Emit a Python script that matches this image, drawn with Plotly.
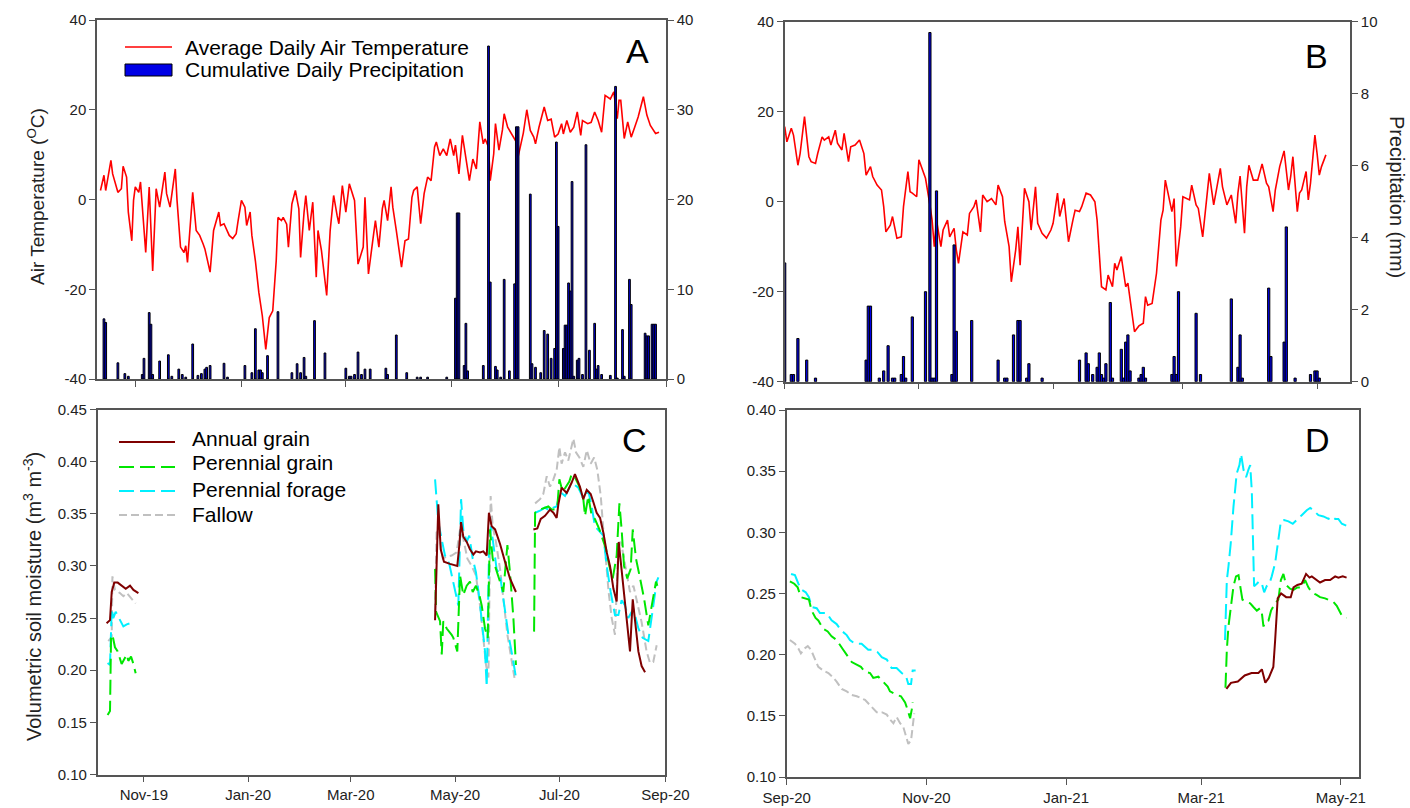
import pandas as pd
import plotly.graph_objects as go

# ---------------- data (day offsets from the start dates) ----------------
A_START = "2019-10-10"
B_START = "2020-09-01"
C_START = "2019-10-05"
D_START = "2020-09-01"

A_TEMP_DAY = [2,4,5,6,8,9,12,14,15,17,18,20,21,22,24,25,26,28,30,32,34,36,39,40,42,45,46,48,50,51,
              52,55,57,59,61,62,65,67,70,71,73,76,78,80,81,83,85,86,88,89,91,93,95,97,99,101,103,104,106,107,
              109,110,112,114,116,117,119,120,122,124,126,127,129,132,134,136,138,139,141,143,145,148,150,153,154,156,159,160,162,164,
              165,167,169,170,172,174,175,177,179,181,182,184,186,188,190,192,194,195,197,199,201,203,205,206,208,210,212,214,216,218,
              220,222,223,225,226,228,229,231,233,234,236,239,241,242,245,247,249,251,252,254,257,259,261,263,265,267,268,270,272,274,
              276,278,279,282,284,286,288,290,292,295,297,299,300,301,303,305,307,309,311,314,316,318,320,321,323]
A_TEMP = [2.0,5.4,2.0,4.2,8.7,5.7,1.6,2.4,7.4,5.0,-2.8,-9.2,-0.2,2.8,1.6,3.9,-1.7,-11.8,2.8,-15.9,
          2.4,-1.7,6.1,1.3,-1.7,6.8,-0.2,-10.6,-11.8,-10.3,-14.0,1.6,-6.9,-8.0,-9.9,-11.0,-16.2,-6.9,-2.8,-5.8,
          -5.4,-8.0,-8.7,-7.6,-5.0,-0.2,-1.7,-5.8,-2.8,-8.0,-13.6,-20.7,-25.9,-33.4,-26.3,-24.8,-13.6,-4.0,-4.7,-4.0,
          -5.5,-10.6,-1.0,2.0,-2.1,-12.9,-2.8,0.9,-6.9,-0.6,-17.3,-6.9,-11.4,-21.4,-6.9,0.9,-3.6,-5.4,3.1,-2.8,
          3.5,-0.2,-14.4,-10.6,0.5,-16.6,-7.6,-4.7,-10.6,-2.0,-0.2,-4.7,2.8,-1.7,-6.9,-12.1,-15.1,-9.2,-8.8,0.5,
          2.0,2.8,-5.4,1.3,5.0,4.2,11.7,12.8,9.8,11.3,9.8,13.5,9.8,12.1,5.7,14.3,8.7,4.2,9.0,6.8,
          17.3,12.4,13.5,11.7,4.2,10.2,16.9,11.0,15.5,19.1,16.1,14.3,12.8,9.5,14.8,20.0,15.4,13.9,12.4,16.1,
          20.6,17.6,17.9,13.9,14.6,16.9,14.6,17.6,15.0,16.1,19.5,14.3,17.6,16.9,17.2,19.5,17.6,15.0,23.2,22.4,
          24.0,18.0,22.1,22.1,13.6,17.3,13.9,16.1,18.4,22.9,18.8,16.5,15.4,14.7,15.0]

A_PRECIP_DAY = [4,5,12,16,18,26,27,30,31,32,36,41,43,47,49,51,55,58,60,62,63,65,73,75,85,89,91,93,94,95,
                98,104,112,115,117,119,120,125,131,143,145,146,148,150,152,154,157,166,167,172,178,184,186,190,201,206,207,208,211,212,
                213,222,225,226,229,230,232,234,237,240,241,242,249,250,252,255,257,259,261,263,264,265,268,269,270,271,272,273,274,276,
                277,279,281,283,286,287,288,290,295,298,299,302,303,306,307,315,316,317,319,320,321]
A_PRECIP = [6.7,6.3,1.8,0.6,0.3,0.5,2.3,7.4,6.1,0.5,2.0,2.7,0.3,1.1,0.5,0.2,3.9,0.4,0.6,1.1,
            1.3,1.5,1.75,0.2,1.5,0.7,5.6,1.0,1.0,0.7,2.6,7.5,0.7,1.7,0.7,2.4,0.3,6.5,2.9,1.2,
            0.3,0.3,0.5,3.0,0.5,1.1,1.1,1.2,0.5,4.9,0.7,0.2,0.2,0.2,0.2,9.0,18.5,18.5,1.5,6.2,
            0.9,1.5,37.1,10.8,1.4,1.0,0.2,11.1,0.9,10.6,28.1,28.1,20.6,1.7,1.3,0.7,5.4,5.0,2.3,3.4,
            26.4,17.0,3.4,6.0,6.0,10.7,9.8,22.0,0.3,2.1,2.3,0.5,26.1,3.2,6.2,1.1,1.5,0.5,0.4,32.6,
            0.1,5.5,0.3,11.1,8.3,5.1,4.8,4.8,6.1,6.1,6.1]

B_TEMP_DAY = [0,1,3,4,6,7,9,11,12,14,15,17,18,20,21,23,24,26,27,29,30,32,34,36,37,39,40,42,44,45,
              46,48,49,50,51,53,54,56,57,58,60,61,63,64,66,67,68,69,71,72,74,75,77,78,79,81,83,84,86,87,
              89,90,92,94,96,97,99,100,102,103,105,106,107,109,111,112,114,115,117,119,121,122,124,125,127,128,129,131,132,134,
              135,137,139,141,142,144,146,147,149,150,151,153,155,156,158,159,161,163,164,165,167,169,171,172,173,174,176,177,178,180,
              181,184,185,187,188,190,192,193,195,196,198,199,201,203,205,206,207,209,210,211,213,215,217,219,220,222,223,225,227,229,
              230,231,233,234,235,237,238,239,241,242,243,244,246]
B_TEMP = [16.7,13.3,16.3,14.8,8.1,10.7,18.9,10.0,8.9,8.5,10.7,14.4,13.7,14.4,12.6,15.9,13.0,11.5,15.2,8.9,
          12.2,12.6,13.7,10.7,5.9,7.8,5.6,3.7,2.6,-1.1,-6.7,-5.2,-3.3,-5.6,-8.1,-7.8,-1.1,6.7,2.2,1.9,
          1.1,9.3,6.7,5.2,-0.7,-4.1,-10.0,-4.1,-10.0,-6.3,-4.1,-7.8,-5.9,-10.7,-13.7,-6.7,-7.4,-2.6,-1.1,0.4,
          -6.7,1.5,0.0,0.7,-0.7,3.7,1.1,-4.4,-10.0,-17.8,-10.7,-5.6,-14.1,3.0,0.0,-6.3,3.3,-4.8,-7.0,-8.1,
          -6.3,-4.8,1.9,-3.3,0.7,-4.1,-8.9,-4.1,-1.9,-2.2,-1.1,1.9,1.5,0.0,-4.1,-18.9,-19.6,-16.3,-18.9,-13.7,
          -15.2,-12.2,-18.9,-18.1,-24.8,-28.9,-27.6,-27.0,-21.1,-23.0,-22.6,-15.9,-4.1,-1.9,4.8,2.6,-2.2,0.7,-14.4,-5.6,
          1.1,0.4,3.7,-0.7,-1.5,-7.8,1.1,6.3,-0.7,1.9,7.4,3.3,-0.7,1.5,-4.8,1.9,5.7,-7.0,3.3,8.1,
          4.8,4.8,8.4,4.1,3.3,-2.2,2.6,7.8,11.3,2.6,5.6,10.0,-2.2,1.9,2.6,6.7,0.4,4.1,14.8,10.7,
          5.9,7.8,10.4]

B_PRECIP_DAY = [0,3,4,6,10,14,37,38,39,43,45,47,49,50,53,54,55,58,64,66,67,68,69,76,77,78,85,97,100,101,
                104,106,107,110,111,117,134,137,138,140,142,143,144,145,146,148,149,153,154,155,156,157,161,162,163,164,176,177,178,179,
                187,189,203,206,207,208,220,221,227,228,232,239,241,242,243]
B_PRECIP = [3.3,0.2,0.2,1.2,0.6,0.1,0.6,2.1,2.1,0.1,0.3,1.0,0.1,0.1,0.2,0.7,0.1,1.8,2.5,9.7,
            0.1,0.1,5.3,0.2,3.8,1.4,1.7,0.6,0.1,0.1,1.3,1.7,1.7,0.1,0.5,0.1,0.6,0.8,0.5,0.2,
            0.4,0.8,0.2,0.1,0.5,2.2,0.1,0.9,0.1,1.1,1.3,0.3,0.1,0.2,0.4,0.1,0.2,0.7,0.2,2.5,
            1.9,0.2,2.3,0.4,1.3,0.1,2.6,0.7,1.1,4.3,0.1,0.2,0.3,0.3,0.1]

# Panel C soil moisture (None = gap in record)
C_ANNUAL_DAY = [5.2,7.2,8.2,9.7,11.7,14.0,16.4,18.9,20.9,23.8, 100,
                197.3,199.2,200.6,202.5,206.0,210.3,211.5,212.5,213.8,215.8,217.7,219.7,221.2,223.6,225.5,227.5,228.8,230.4,232.4,235.3,238.2,241.1,244.6, 250,
                254.8,257.1,259.1,261.6,264.5,266.5,268.4,269.4,271.3,274.3,277.2,279.1,282.0,284.0,286.0,288.3,289.9,291.8,293.8,295.7,
                297.7,299.6,301.6,303.5,304.7,306.4,308.4,310.3,311.3,312.9,314.2,316.2,318.1,320.1]
C_ANNUAL = [0.245,0.248,0.275,0.284,0.284,0.281,0.278,0.281,0.277,0.274, None,
            0.248,0.359,0.316,0.304,0.302,0.300,0.320,0.342,0.328,0.323,0.316,0.311,0.314,0.313,0.314,0.310,0.351,0.338,0.335,0.321,0.304,0.288,0.275, None,
            0.335,0.336,0.345,0.348,0.354,0.351,0.346,0.359,0.375,0.370,0.380,0.388,0.376,0.364,0.373,0.369,0.361,0.351,0.346,0.332,
            0.313,0.300,0.278,0.266,0.323,0.297,0.265,0.240,0.218,0.268,0.246,0.218,0.204,0.198]

C_PGRAIN_DAY = [5.8,7.2,7.8,8.6,10.1,11.7,14.0,17.0,17.9,19.5,20.9,22.2, 100,
                197.3,197.9,200.2,201.2,202.1,204.1,207.0,208.0,210.3,211.9,213.8,215.8,217.7,219.3,221.2,223.2,224.6,226.5,228.1,229.4,
                231.0,232.9,234.9,237.2,239.6,241.1,243.1,244.6, 250,
                255.2,255.8,258.7,261.6,263.5,265.5,267.4,268.8,270.0,271.9,273.9,275.8,277.2,279.1,281.7,284.0,285.0,286.9,288.9,290.8,
                293.4,295.3,297.3,299.2,301.2,303.5,305.1,306.4,307.8,309.7,311.7,312.9,314.8,317.2,319.5,322.0,324.6,326.5,327.3]
C_PGRAIN = [0.157,0.161,0.231,0.234,0.222,0.218,0.206,0.215,0.209,0.213,0.206,0.197, None,
            0.297,0.256,0.247,0.215,0.247,0.240,0.234,0.231,0.218,0.291,0.272,0.281,0.285,0.275,0.281,0.272,0.262,0.240,0.231,0.335,
            0.307,0.297,0.285,0.275,0.320,0.294,0.250,0.205, None,
            0.237,0.351,0.354,0.356,0.357,0.354,0.354,0.357,0.383,0.371,0.376,0.381,0.388,0.385,0.376,0.364,0.348,0.367,0.348,0.345,
            0.335,0.326,0.316,0.300,0.288,0.310,0.360,0.335,0.300,0.288,0.297,0.335,0.307,0.288,0.269,0.243,0.269,0.285,0.281]

C_PFORAGE_DAY = [5.8,7.2,8.2,9.1,10.5,12.5,15.0,17.0,18.9,20.9, 100,
                 197.3,199.2,201.1,203.1,205.6,208.0,209.9,210.9,212.5,213.8,215.8,217.3,219.3,221.2,223.2,225.1,226.5,227.5,228.8,230.0,
                 231.8,233.3,235.3,237.6,240.2,242.7,244.6, 250,
                 255.8,258.7,261.6,264.5,266.5,268.4,270.4,273.3,276.2,278.6,281.1,284.0,286.9,288.9,290.8,293.8,295.7,297.7,300.0,302.5,
                 304.5,306.4,308.4,310.3,313.3,316.2,318.7,322.0,324.6,326.9,327.9]
C_PFORAGE = [0.207,0.205,0.259,0.250,0.256,0.250,0.242,0.244,0.245,0.241, None,
             0.383,0.342,0.326,0.310,0.302,0.285,0.272,0.262,0.364,0.335,0.323,0.329,0.307,0.294,0.269,0.243,0.218,0.184,0.310,0.338,
             0.313,0.297,0.291,0.262,0.234,0.212,0.193, None,
             0.351,0.353,0.356,0.353,0.356,0.357,0.371,0.367,0.376,0.378,0.375,0.365,0.372,0.357,0.338,0.332,0.329,0.300,0.275,0.253,
             0.253,0.267,0.262,0.250,0.259,0.240,0.231,0.228,0.256,0.285,0.289]

C_FALLOW_DAY = [6.2,8.2,8.6,10.1,13.0,15.0,17.0,19.9,22.2, 100,
                197.3,198.2,199.8,201.8,204.1,207.0,209.9,211.9,213.8,216.2,218.7,221.2,223.6,225.5,227.1,228.5,229.8,231.0,232.9,235.3,
                237.6,239.6,241.5,244.0, 250,
                255.8,258.7,260.6,262.6,264.5,266.5,268.4,270.0,271.3,273.3,275.2,277.2,278.2,279.7,281.7,284.0,286.0,288.3,290.3,292.2,
                294.2,295.7,297.3,298.8,300.6,302.5,304.5,306.0,307.8,309.7,311.3,313.3,315.6,318.1,321.0,323.0,324.9,326.9]
C_FALLOW = [0.228,0.232,0.290,0.277,0.274,0.271,0.274,0.269,0.264, None,
            0.256,0.335,0.329,0.307,0.309,0.310,0.313,0.335,0.326,0.307,0.300,0.291,0.262,0.234,0.205,0.193,0.367,0.338,0.323,0.297,
            0.262,0.234,0.215,0.190, None,
            0.360,0.364,0.369,0.386,0.376,0.383,0.392,0.414,0.398,0.409,0.401,0.415,0.422,0.409,0.404,0.395,0.411,0.398,0.404,0.392,
            0.367,0.335,0.304,0.275,0.250,0.234,0.320,0.323,0.307,0.291,0.275,0.281,0.265,0.246,0.218,0.207,0.208,0.224]

# Panel D soil moisture
D_ANNUAL_DAY = [192,194,197,200,203,206,207.5,209,210.5,212.5,213.3,214.4,215.9,218.1,220.1,221.3,223,224.9,226.8,228.3,
                229.3,231.2,232.9,235.1,237.3,239.5,240.9,242.8,244.5]
D_ANNUAL = [0.172,0.177,0.178,0.183,0.185,0.185,0.188,0.177,0.181,0.190,0.212,0.246,0.250,0.247,0.247,0.255,0.257,0.258,0.266,0.263,
            0.264,0.261,0.259,0.261,0.261,0.264,0.263,0.264,0.263]

D_PGRAIN_DAY = [1.4,3.3,4.8,6.2,9.7,10.9,12.6,13.8,16.0,17.9,19.6,21.8,24.3,26.2,28.4,32.4,34.2,36.4,37.8,40.0,
                42.2,44.1,45.1,48.0,49.9,51.7,52.8,53.9,54.6,55.0, 120,
                191.6,192.2,192.9,193.9,195.1,196.2,197.3,198.3,199.0,200.6,202.4,203.8,205.3,206.7,207.5,208.2,208.9,210.4,211.5,213.3,
                214.7,215.8,216.9,218.1,219.8,221.3,223.0,224.9,226.4,227.8,229.3,231.2,232.9,235.1,236.6,238.8,240.2,241.4,242.4,244.5]
D_PGRAIN = [0.260,0.258,0.255,0.247,0.245,0.236,0.230,0.228,0.221,0.219,0.215,0.212,0.205,0.200,0.194,0.190,0.186,0.185,0.181,0.182,
            0.178,0.174,0.170,0.167,0.166,0.161,0.155,0.148,0.155,0.161, None,
            0.173,0.204,0.223,0.239,0.256,0.264,0.265,0.253,0.245,0.243,0.242,0.239,0.236,0.238,0.234,0.223,0.227,0.228,0.236,0.242,
            0.245,0.261,0.266,0.257,0.254,0.253,0.255,0.255,0.261,0.255,0.251,0.249,0.247,0.246,0.245,0.243,0.240,0.236,0.232,0.230]

D_PFORAGE_DAY = [1.9,3.6,5.1,6.5,8.3,9.7,10.9,13.1,14.5,17.5,19.6,21.8,23.7,26.2,27.6,29.8,32.7,35.6,37.4,39.7,
                 41.5,43.7,45.8,48.0,50.2,52.0,53.1,54.3,55.0,56.3, 120,
                 191.4,192.2,192.9,193.9,195.1,196.5,197.7,198.4,199.5,200.6,201.6,202.4,203.1,203.5,204.1,205.3,206.4,207.5,208.5,209.6,
                 210.8,211.8,213.3,214.7,215.8,217.2,219.1,221.0,223.0,224.9,227.1,228.6,230.0,232.2,234.4,236.6,238.0,239.5,240.9,242.4,245.0]
D_PFORAGE = [0.266,0.265,0.258,0.253,0.251,0.247,0.239,0.238,0.234,0.234,0.228,0.225,0.220,0.216,0.212,0.209,0.209,0.204,0.204,0.202,
             0.198,0.196,0.189,0.189,0.185,0.183,0.176,0.176,0.187,0.187, None,
             0.212,0.261,0.272,0.291,0.321,0.348,0.355,0.364,0.351,0.345,0.351,0.355,0.334,0.294,0.256,0.258,0.260,0.258,0.251,0.256,
             0.258,0.264,0.275,0.294,0.309,0.310,0.309,0.307,0.311,0.314,0.318,0.320,0.318,0.314,0.313,0.311,0.313,0.311,0.311,0.307,0.305]

D_FALLOW_DAY = [1.4,3.6,5.1,6.2,7.7,9.2,10.6,12.4,13.8,16.0,18.2,20.4,21.8,24.0,26.2,28.4,30.6,34.2,37.1,39.3,
                41.5,43.7,45.1,46.6,48.0,49.5,50.9,51.9,53.1,54.3,55.0,55.7]
D_FALLOW = [0.212,0.209,0.205,0.201,0.205,0.207,0.204,0.196,0.190,0.187,0.185,0.181,0.178,0.172,0.170,0.167,0.166,0.163,0.157,0.153,
            0.153,0.151,0.147,0.144,0.149,0.144,0.141,0.134,0.127,0.130,0.144,0.152]

# ticks
LEFT_TICKS = ["2019-11-01", "2020-01-01", "2020-03-01", "2020-05-01", "2020-07-01", "2020-09-01"]
LEFT_TICK_TEXT = ["Nov-19", "Jan-20", "Mar-20", "May-20", "Jul-20", "Sep-20"]
RIGHT_TICKS = ["2020-09-01", "2020-11-01", "2021-01-01", "2021-03-01", "2021-05-01"]
RIGHT_TICK_TEXT = ["Sep-20", "Nov-20", "Jan-21", "Mar-21", "May-21"]
TEMP_TICKS = [-40, -20, 0, 20, 40]
TEMP_TICK_TEXT = ["-40", "-20", "0", "20", "40"]
A_P_TICKS = [0, 10, 20, 30, 40]
B_P_TICKS = [0, 2, 4, 6, 8, 10]
C_VSM_TICKS = [0.10, 0.15, 0.20, 0.25, 0.30, 0.35, 0.40, 0.45]
D_VSM_TICKS = [0.10, 0.15, 0.20, 0.25, 0.30, 0.35, 0.40]

SERIES_NAMES = ["Annual grain", "Perennial grain", "Perennial forage", "Fallow"]
SERIES_COLORS = ["#7f0000", "#00e600", "#00f0ff", "#c0c0c0"]
SERIES_DASH = ["solid", "15px,6px", "15px,6px", "8px,4px"]

# ---------------- helpers ----------------
W, H = 1410, 808


def dates(start, days):
    base = pd.Timestamp(start)
    return [base + pd.Timedelta(days=d) for d in days]


def fx(px):
    return px / W


def fy(py):
    return 1 - py / H


FONT = "Liberation Sans, Arial, sans-serif"
AX = "#555555"
TXT = "#222222"
DAY_MS = 86400000

fig = go.Figure()

# Panel A
fig.add_trace(go.Scatter(x=dates(A_START, A_TEMP_DAY), y=A_TEMP, mode="lines",
                         line=dict(color="#ff0000", width=1.6), xaxis="x", yaxis="y"))
fig.add_trace(go.Bar(x=dates(A_START, A_PRECIP_DAY), y=A_PRECIP, width=DAY_MS,
                     marker=dict(color="#0000e6", line=dict(color="black", width=1)),
                     xaxis="x", yaxis="y2"))
# Panel B
fig.add_trace(go.Scatter(x=dates(B_START, B_TEMP_DAY), y=B_TEMP, mode="lines",
                         line=dict(color="#ff0000", width=1.6), xaxis="x2", yaxis="y3"))
fig.add_trace(go.Bar(x=dates(B_START, B_PRECIP_DAY), y=B_PRECIP, width=DAY_MS,
                     marker=dict(color="#0000e6", line=dict(color="black", width=1)),
                     xaxis="x2", yaxis="y4"))

# Panel C
c_sets = [(C_ANNUAL_DAY, C_ANNUAL), (C_PGRAIN_DAY, C_PGRAIN), (C_PFORAGE_DAY, C_PFORAGE), (C_FALLOW_DAY, C_FALLOW)]
order = [3, 2, 1, 0]
for i in order:
    d, v = c_sets[i]
    fig.add_trace(go.Scatter(x=dates(C_START, d), y=v, mode="lines", connectgaps=False,
                             line=dict(color=SERIES_COLORS[i], width=2, dash=SERIES_DASH[i]),
                             name=SERIES_NAMES[i], xaxis="x3", yaxis="y5"))
# Panel D
d_sets = [(D_ANNUAL_DAY, D_ANNUAL), (D_PGRAIN_DAY, D_PGRAIN), (D_PFORAGE_DAY, D_PFORAGE), (D_FALLOW_DAY, D_FALLOW)]
for i in order:
    d, v = d_sets[i]
    fig.add_trace(go.Scatter(x=dates(D_START, d), y=v, mode="lines", connectgaps=False,
                             line=dict(color=SERIES_COLORS[i], width=2, dash=SERIES_DASH[i]),
                             name=SERIES_NAMES[i], xaxis="x4", yaxis="y6"))

common = dict(showgrid=False, zeroline=False, showline=True, linecolor=AX, linewidth=1.5,
              ticks="outside", ticklen=6, tickwidth=1.2, tickcolor=AX, automargin=False,
              tickfont=dict(family=FONT, size=15, color=TXT))

A_X = (97, 666)
A_Y = (20, 379)
B_X = (784.7, 1350.1)
B_Y = (21.7, 381.7)
C_X = (97.7, 665.4)
C_Y = (409.5, 774.5)
D_X = (786.7, 1359.2)
D_Y = (410, 777)

fig.update_layout(
    width=W, height=H, margin=dict(l=0, r=0, t=0, b=0, autoexpand=False),
    plot_bgcolor="white", paper_bgcolor="white", showlegend=False,
    barmode="overlay",
    xaxis=dict(common, domain=[fx(A_X[0]), fx(A_X[1])], anchor="y", type="date",
               range=[A_START, "2020-09-01"], tickvals=LEFT_TICKS, showticklabels=False, mirror=True),
    yaxis=dict(common, domain=[fy(A_Y[1]), fy(A_Y[0])], anchor="x", range=[-40, 40],
               tickvals=TEMP_TICKS, ticktext=TEMP_TICK_TEXT),
    yaxis2=dict(common, overlaying="y", side="right", anchor="x", range=[0, 40],
                tickvals=A_P_TICKS, ticktext=[str(t) for t in A_P_TICKS]),
    xaxis2=dict(common, domain=[fx(B_X[0]), fx(B_X[1])], anchor="y3", type="date",
                range=[B_START, "2021-05-16"], tickvals=RIGHT_TICKS, showticklabels=False, mirror=True),
    yaxis3=dict(common, domain=[fy(B_Y[1]), fy(B_Y[0])], anchor="x2", range=[-40, 40],
                tickvals=TEMP_TICKS, ticktext=TEMP_TICK_TEXT),
    yaxis4=dict(common, overlaying="y3", side="right", anchor="x2", range=[0, 10],
                tickvals=B_P_TICKS, ticktext=[str(t) for t in B_P_TICKS]),
    xaxis3=dict(common, domain=[fx(C_X[0]), fx(C_X[1])], anchor="y5", type="date",
                range=[C_START, "2020-09-01"], tickvals=LEFT_TICKS, ticktext=LEFT_TICK_TEXT, mirror=True),
    yaxis5=dict(common, domain=[fy(C_Y[1]), fy(C_Y[0])], anchor="x3", range=[0.10, 0.45],
                tickvals=C_VSM_TICKS, ticktext=["%.2f" % t for t in C_VSM_TICKS], mirror=True),
    xaxis4=dict(common, domain=[fx(D_X[0]), fx(D_X[1])], anchor="y6", type="date",
                range=[D_START, "2021-05-09"], tickvals=RIGHT_TICKS, ticktext=RIGHT_TICK_TEXT, mirror=True),
    yaxis6=dict(common, domain=[fy(D_Y[1]), fy(D_Y[0])], anchor="x4", range=[0.10, 0.40],
                tickvals=D_VSM_TICKS, ticktext=["%.2f" % t for t in D_VSM_TICKS], mirror=True),
)

shapes = []
annotations = []


def text(x, y, s, size, angle=0, anchor="left", color="black"):
    annotations.append(dict(x=fx(x), y=fy(y), xref="paper", yref="paper", text=s, showarrow=False,
                            xanchor=anchor, yanchor="middle", textangle=angle,
                            font=dict(family=FONT, size=size, color=color)))


# Legend A
shapes.append(dict(type="line", xref="paper", yref="paper", x0=fx(125), x1=fx(172), y0=fy(47), y1=fy(47),
                   line=dict(color="#ff0000", width=1.6)))
text(183, 47, "Average Daily Air Temperature", 21)
shapes.append(dict(type="rect", xref="paper", yref="paper", x0=fx(125), x1=fx(172), y0=fy(76), y1=fy(64),
                   fillcolor="#0000e6", line=dict(color="black", width=1)))
text(183, 70, "Cumulative Daily Precipitation", 21)

# Legend C
leg_line_y = [442, 467, 491, 515]
leg_text_y = [438, 463, 489, 514]
for i, name in enumerate(SERIES_NAMES):
    shapes.append(dict(type="line", xref="paper", yref="paper", x0=fx(119), x1=fx(175),
                       y0=fy(leg_line_y[i]), y1=fy(leg_line_y[i]),
                       line=dict(color=SERIES_COLORS[i], width=2, dash=SERIES_DASH[i])))
    text(190, leg_text_y[i], name, 21)

# Axis titles
text(36, 197, "Air Temperature (<sup>O</sup>C)", 19, angle=-90, anchor="center", color=TXT)
text(1397, 197, "Precipitation (mm)", 20, angle=90, anchor="center", color=TXT)
text(32, 597, "Volumetric soil moisture (m<sup>3</sup> m<sup>-3</sup>)", 20, angle=-90, anchor="center", color=TXT)

# Panel letters
text(637, 51, "A", 34, anchor="center")
text(1316, 56, "B", 34, anchor="center")
text(634, 440, "C", 34, anchor="center")
text(1317, 440, "D", 34, anchor="center")

fig.update_layout(shapes=shapes, annotations=annotations)

fig.write_html("out.html")
